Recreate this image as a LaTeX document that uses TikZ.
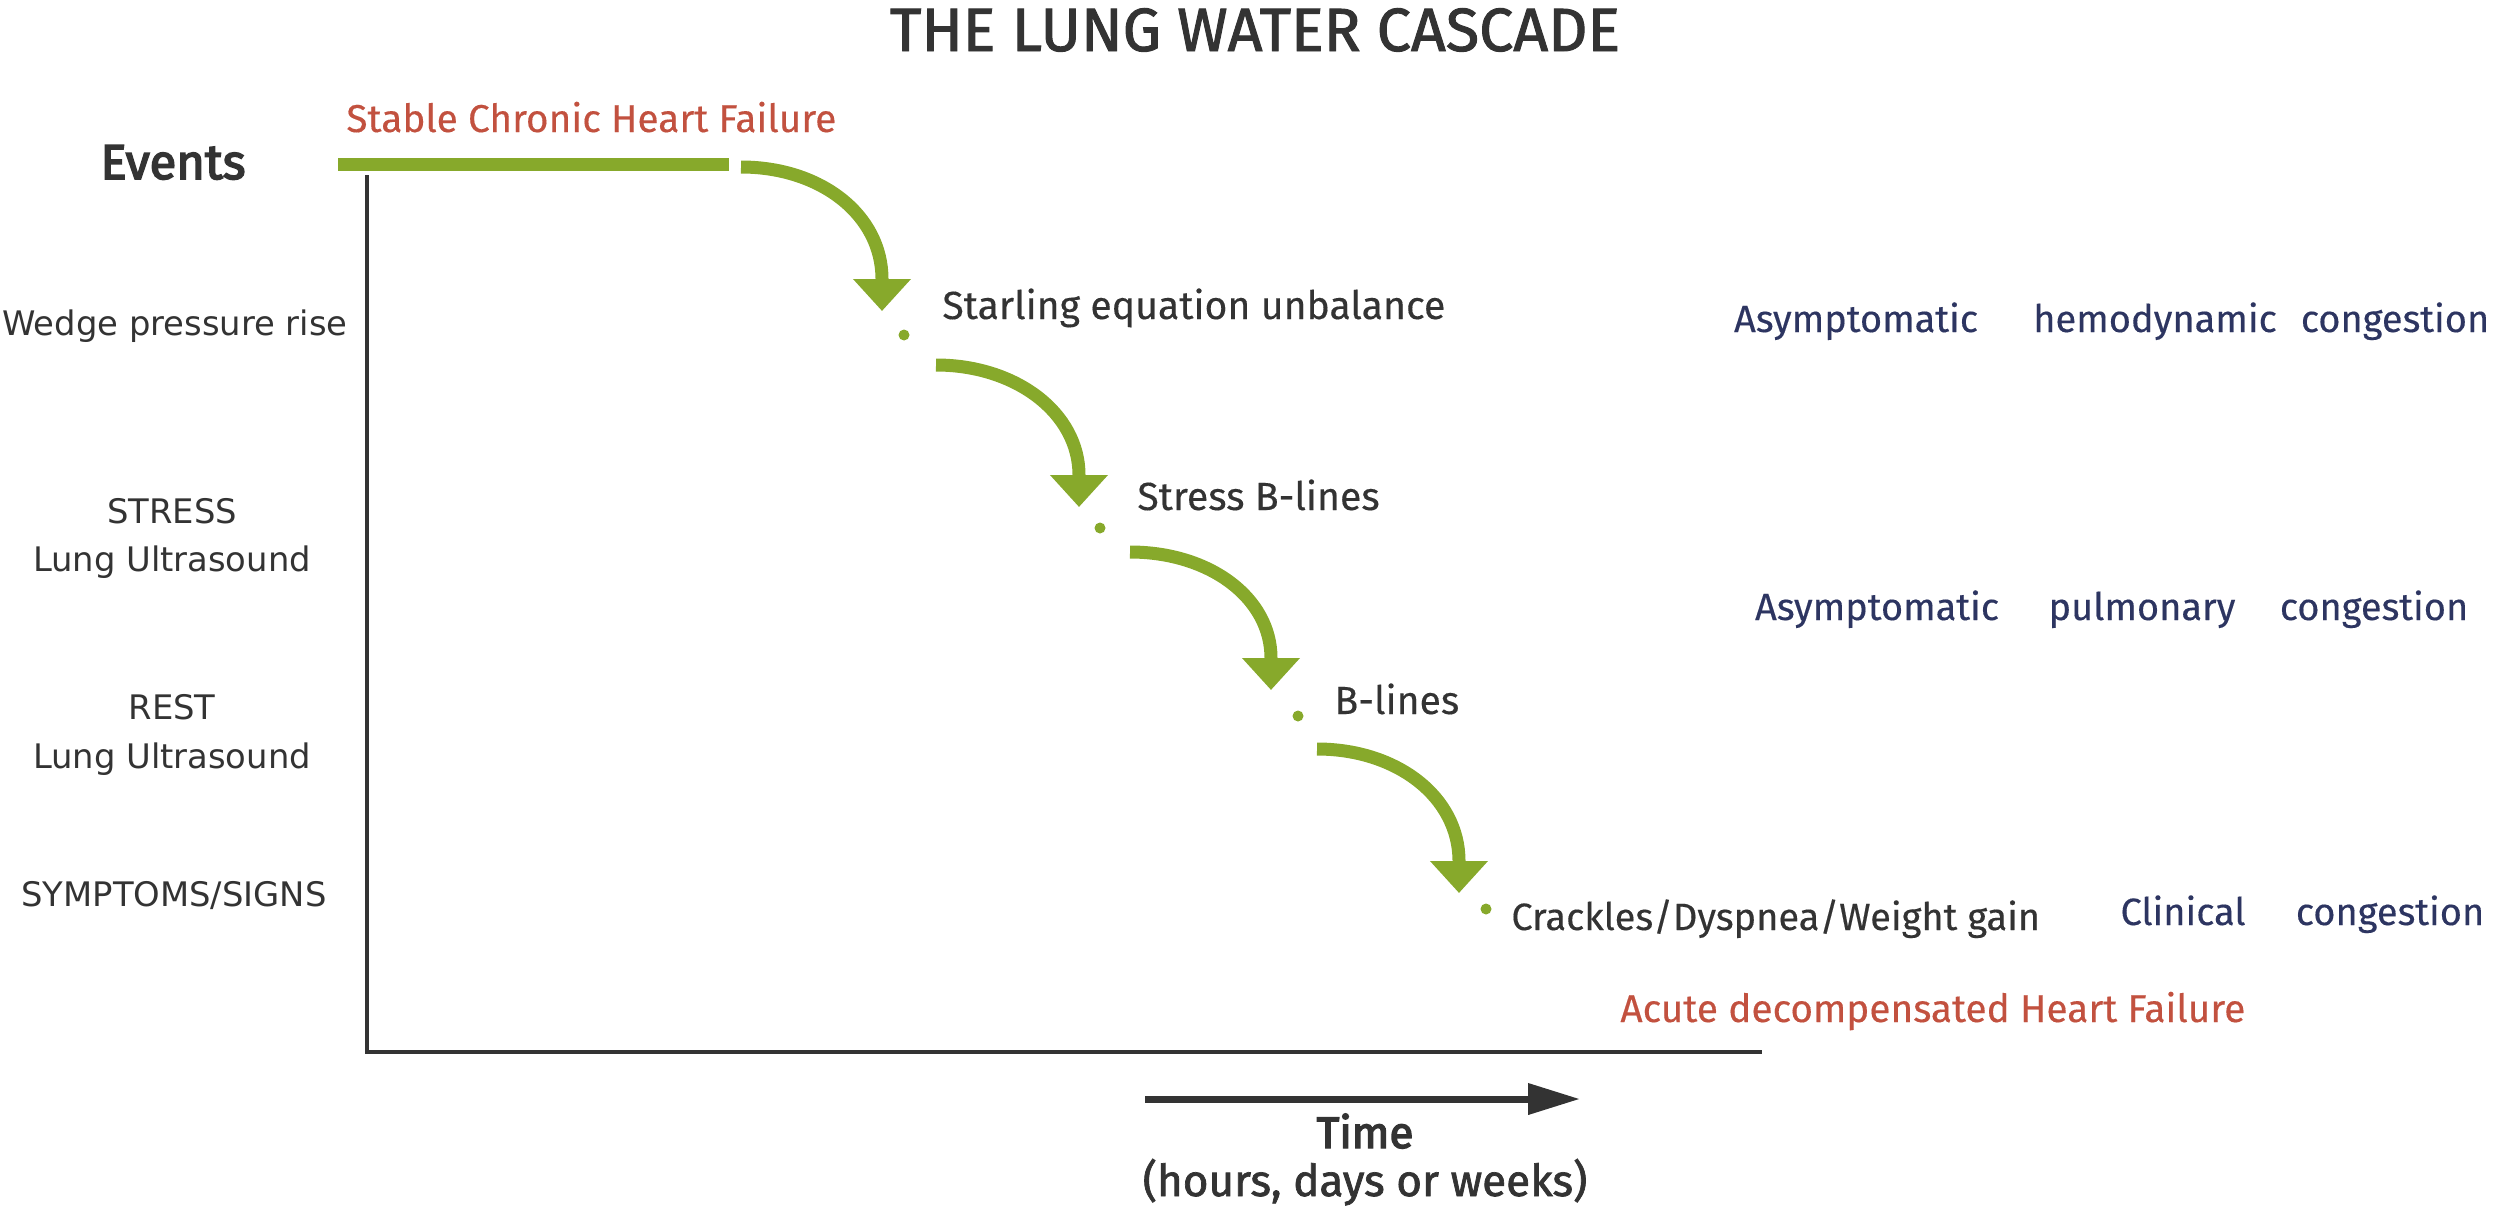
\documentclass[tikz,border=0pt]{standalone}
\usepackage{fontspec}
\setmainfont{Fira Sans}[FakeBold=0.3]
\newfontfamily\labfont{DejaVu Sans}
\newfontfamily\semifont{Fira Sans}[FakeBold=3.2]
\newfontfamily\medfont{Fira Sans}[FakeBold=1.6]
\usetikzlibrary{arrows.meta}
\definecolor{cgreen}{HTML}{87A92B}
\definecolor{cred}{HTML}{C2513F}
\definecolor{cnavy}{HTML}{2D3561}
\definecolor{cdark}{HTML}{333333}
\tikzset{
  body/.style={inner sep=0pt, text=cdark, font=\fontsize{19.6}{24}\selectfont},
  redtxt/.style={inner sep=0pt, text=cred, font=\fontsize{19.4}{24}\selectfont},
  navytxt/.style={inner sep=0pt, text=cnavy, font=\fontsize{19}{24}\selectfont},
  lefttxt/.style={inner sep=0pt, text=cdark, font=\labfont\fontsize{16.9}{24}\selectfont},
  gdot/.style={circle, fill=cgreen, inner sep=0pt, minimum size=5.5pt},
  garrow/.style={draw=cgreen, line width=6.5pt, -{Triangle[length=16pt,width=28pt]}},
  axisline/.style={draw=cdark, line width=2pt},
}
\begin{document}
\begin{tikzpicture}[x=0.5pt,y=-0.5pt]
\useasboundingbox (0,0) rectangle (2500,1215);
% title
\node[body, anchor=base, font=\medfont\fontsize{30.5}{36}\selectfont] (title) at (1255,51) {THE LUNG WATER CASCADE};
% events label
\node[body, anchor=base west, font=\semifont\fontsize{24.5}{28}\selectfont] (events) at (100,179) {Events};
% left labels
\node[lefttxt, anchor=base] (wedge) at (175,335) {Wedge pressure rise};
\node[lefttxt, anchor=base] (stress1) at (172,523) {STRESS};
\node[lefttxt, anchor=base] (stress2) at (172,571) {Lung Ultrasound};
\node[lefttxt, anchor=base] (rest1) at (172,719) {REST};
\node[lefttxt, anchor=base] (rest2) at (172,768) {Lung Ultrasound};
\node[lefttxt, anchor=base] (symp) at (174,906) {SYMPTOMS/SIGNS};
% axes
\coordinate (ax0) at (367,1052);
\coordinate (axtop) at (367,175);
\coordinate (axright) at (1762,1052);
\draw[axisline] (axtop) -- (ax0) -- (axright);
% stable line
\node[redtxt, anchor=base west] (stable) at (346,132) {Stable Chronic Heart Failure};
\coordinate (gl0) at (338,164);
\coordinate (gl1) at (729,164);
\draw[cgreen, line width=6.5pt] (gl0) -- (gl1);
% arrows
\coordinate (a1s) at (741,167); \coordinate (m1) at (882,279); \coordinate (t1) at (882,311);
\coordinate (a2s) at (936,365); \coordinate (m2) at (1079,475); \coordinate (t2) at (1079,507);
\coordinate (a3s) at (1130,552); \coordinate (m3) at (1271,658); \coordinate (t3) at (1271,690);
\coordinate (a4s) at (1317,749); \coordinate (m4) at (1459,861); \coordinate (t4) at (1459,893);
\draw[garrow] (a1s) .. controls +(80,0) and +(0,-64) .. (m1) -- (t1);
\draw[garrow] (a2s) .. controls +(80,0) and +(0,-62) .. (m2) -- (t2);
\draw[garrow] (a3s) .. controls +(80,0) and +(0,-60) .. (m3) -- (t3);
\draw[garrow] (a4s) .. controls +(80,0) and +(0,-64) .. (m4) -- (t4);
% dots
\node[gdot] (d1) at (904,335) {};
\node[gdot] (d2) at (1100,528) {};
\node[gdot] (d3) at (1298,716) {};
\node[gdot] (d4) at (1486,909) {};
% event texts
\node[body, anchor=base west] (e1) at (942,319) {Starling equation unbalance};
\node[body, anchor=base west] (e2) at (1137,510) {Stress B-lines};
\node[body, anchor=base west] (e3) at (1334,714) {B-lines};
\node[body, anchor=base west, font=\fontsize{19}{24}\selectfont] (e4) at (1511,930) {Crackles/Dyspnea/Weight gain};
\node[redtxt, anchor=base west] (acute) at (1620,1022) {Acute decompensated Heart Failure};
% right column
\node[navytxt, anchor=base] (r1a) at (1856,332) {Asymptomatic};
\node[navytxt, anchor=base] (r1b) at (2155,332) {hemodynamic};
\node[navytxt, anchor=base] (r1c) at (2395,332) {congestion};
\node[navytxt, anchor=base] (r2a) at (1877,620) {Asymptomatic};
\node[navytxt, anchor=base] (r2b) at (2142,620) {pulmonary};
\node[navytxt, anchor=base] (r2c) at (2374,620) {congestion};
\node[navytxt, anchor=base] (r3a) at (2183,925) {Clinical};
\node[navytxt, anchor=base] (r3b) at (2390,925) {congestion};
% time arrow
\coordinate (ts) at (1145,1099);
\coordinate (te) at (1580,1099);
\draw[cdark, line width=3.5pt, -{Triangle[length=26pt,width=15pt]}] (ts) -- (te);
\node[body, anchor=base, font=\semifont\fontsize{22}{26}\selectfont] (time) at (1365,1148) {Time};
\node[body, anchor=base, font=\medfont\fontsize{22}{26}\selectfont] (hours) at (1365,1196) {(hours, days or weeks)};
\end{tikzpicture}
\end{document}
